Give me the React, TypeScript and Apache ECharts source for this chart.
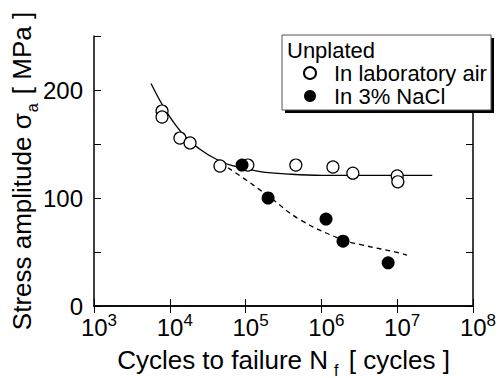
import React, { useEffect, useRef } from "react";
import * as echarts from "echarts";

const airN = [7900, 7900, 13600, 18500, 45900, 107000, 460000, 1420000, 2600000, 10000000, 10200000];
const airS = [180.5, 175, 155.5, 151, 129.6, 130.5, 130.5, 128.7, 123, 120.4, 115];
const naclN = [89800, 198000, 1150000, 1930000, 7600000];
const naclS = [130.5, 100, 80.5, 60, 40];

// Fitted curves
const airFitN = [5650, 9200, 15800, 25000, 40000, 65000, 155000, 400000, 1000000, 29000000];
const airFitS = [206, 179, 157, 145.2, 136.3, 130.1, 124.5, 122, 121, 121];
const naclFitN = [58600, 100000, 198000, 520000, 1930000, 3200000, 11000000, 13500000];
const naclFitS = [128, 117, 102, 80, 61, 57, 49, 47];

const yLabels = [0, 100, 200];
const legendTitle = "Unplated";
const airName = "In laboratory air";
const naclName = "In 3% NaCl";

const FONT = "Liberation Sans, Arial, Helvetica, sans-serif";

const zip = (a: number[], b: number[]) => a.map((v, i) => [v, b[i]]);

export default function App() {
  const ref = useRef<HTMLDivElement>(null);
  useEffect(() => {
    const chart = echarts.init(ref.current!, null, { renderer: "svg" });
    const axisCommon = {
      axisLine: { show: true, lineStyle: { color: "#000", width: 1.5 } },
      axisTick: { show: true, inside: true, length: 7, lineStyle: { color: "#000", width: 1 } },
      splitLine: { show: false },
    };
    chart.setOption({
      animation: false,
      backgroundColor: "#fff",
      textStyle: { fontFamily: FONT },
      grid: { left: 94, top: 36, right: 27, bottom: 72, containLabel: false, outerBoundsMode: "none" },
      xAxis: [
        {
          type: "log",
          logBase: 10,
          min: 1e3,
          max: 1e8,
          position: "bottom",
          ...axisCommon,
          axisLabel: {
            margin: 6,
            padding: [0, 0, 0, 10],
            formatter: (v: number) => `{b|10}{s|${Math.round(Math.log10(v))}}`,
            rich: {
              b: { fontSize: 24, fontFamily: FONT, color: "#000", verticalAlign: "bottom" },
              s: { fontSize: 17, fontFamily: FONT, color: "#000", verticalAlign: "bottom", padding: [0, 0, 10, 0] },
            },
          },
          name: "{n|Cycles to failure N}{sub|f}{n| [ cycles ]}",
          nameLocation: "middle",
          nameGap: 41,
          nameMoveOverlap: false,
          nameTextStyle: {
            rich: {
              n: { fontSize: 26, fontFamily: FONT, color: "#000", verticalAlign: "bottom", padding: [0, 0, 5, 0] },
              sub: { fontSize: 16, fontFamily: FONT, color: "#000", verticalAlign: "bottom", padding: [0, 3, 0, 6] },
            },
          },
        },
        {
          type: "log",
          logBase: 10,
          min: 1e3,
          max: 1e8,
          position: "top",
          ...axisCommon,
          axisLabel: { show: false },
        },
      ],
      yAxis: [
        {
          type: "value",
          min: 0,
          max: 250,
          interval: 50,
          position: "left",
          ...axisCommon,
          axisLabel: {
            margin: 11,
            fontSize: 24,
            fontFamily: FONT,
            color: "#000",
            formatter: (v: number) => (yLabels.includes(v) ? String(v) : ""),
          },
          name: "{n|Stress amplitude σ}{sub|a}{n| [ MPa ]}",
          nameLocation: "middle",
          nameGap: 54,
          nameMoveOverlap: false,
          nameTextStyle: {
            rich: {
              n: { fontSize: 26, fontFamily: FONT, color: "#000", verticalAlign: "bottom", padding: [0, 0, 5, 0] },
              sub: { fontSize: 16, fontFamily: FONT, color: "#000", verticalAlign: "bottom", padding: [0, 2, 0, 1] },
            },
          },
        },
        {
          type: "value",
          min: 0,
          max: 250,
          interval: 50,
          position: "right",
          ...axisCommon,
          axisLabel: { show: false },
        },
      ],
      legend: {
        show: true,
        orient: "vertical",
        left: 303,
        top: 62,
        padding: 0,
        itemWidth: 12,
        itemHeight: 12,
        itemGap: 1,
        z: 60,
        data: [airName, naclName],
        textStyle: { fontSize: 22, fontFamily: FONT, color: "#000", lineHeight: 22, padding: [0, 0, 0, 13] },
      },
      graphic: [
        { type: "rect", z: 50, shape: { x: 285, y: 38, width: 209, height: 75 }, style: { fill: "#000" } },
        {
          type: "rect",
          z: 51,
          shape: { x: 282, y: 35, width: 209, height: 75 },
          style: { fill: "#fff", stroke: "#555", lineWidth: 1 },
        },
        {
          type: "text",
          z: 52,
          x: 287,
          y: 50,
          style: { text: legendTitle, fontSize: 22, fontFamily: FONT, fill: "#000", verticalAlign: "middle" },
        },
      ],
      series: [
        {
          type: "line",
          name: "airFit",
          data: zip(airFitN, airFitS),
          smooth: 0.4,
          showSymbol: false,
          symbol: "none",
          lineStyle: { color: "#000", width: 1.3 },
          z: 2,
        },
        {
          type: "line",
          name: "naclFit",
          data: zip(naclFitN, naclFitS),
          smooth: 0.4,
          showSymbol: false,
          symbol: "none",
          lineStyle: { color: "#000", width: 1.3, type: [5, 4] },
          z: 2,
        },
        {
          type: "scatter",
          name: airName,
          data: zip(airN, airS),
          symbol: "circle",
          symbolSize: 12,
          itemStyle: { color: "#fff", borderColor: "#000", borderWidth: 1.2, opacity: 1 },
          z: 3,
        },
        {
          type: "scatter",
          name: naclName,
          data: zip(naclN, naclS),
          symbol: "circle",
          symbolSize: 13,
          itemStyle: { color: "#000", borderColor: "#000", borderWidth: 0, opacity: 1 },
          z: 4,
        },
      ],
    });
    return () => chart.dispose();
  }, []);
  return <div ref={ref} style={{ position: "fixed", left: 0, top: 0, width: 500, height: 378 }} />;
}
